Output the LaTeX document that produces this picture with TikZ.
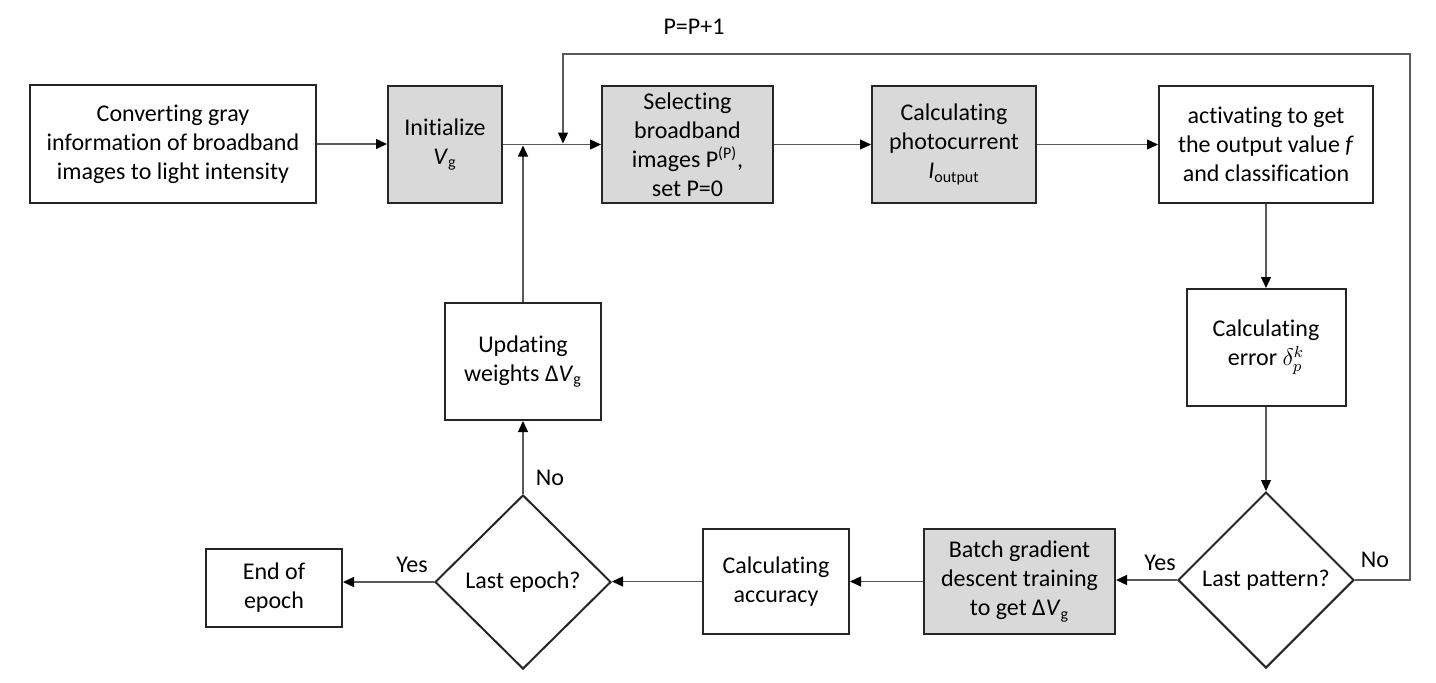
\documentclass[tikz,border=0pt]{standalone}
\usepackage{fontspec}
\setmainfont{Carlito}[Ligatures=NoCommon]
\usetikzlibrary{shapes.geometric,arrows.meta}
\definecolor{boxgray}{HTML}{D9D9D9}
\definecolor{linegray}{HTML}{595959}
\begin{document}
\begin{tikzpicture}[x=0.5pt,y=-0.5pt,
  every node/.style={font=\fontsize{12}{14.5}\selectfont},
  box/.style={draw=black!85, line width=1pt, align=center, inner sep=0pt, fill=white},
  gbox/.style={box, fill=boxgray},
  dec/.style={draw=black!85, line width=1pt, diamond, align=center, inner sep=0pt, fill=white},
  conn/.style={draw=linegray, line width=0.65pt, -{Triangle[length=5.5pt,width=5pt,color=black]}},
  lbl/.style={inner sep=0pt}]
\fill[white] (0,0) rectangle (1436,682);
\useasboundingbox (0,0) rectangle (1436,682);

% top row
\node[box, minimum width=143pt, minimum height=59pt] (conv) at (173,144)
  {Converting gray\\information of broadband\\images to light intensity};
\node[gbox, minimum width=57pt, minimum height=58.5pt] (init) at (445,144.5)
  {Initialize\\\textit{V}\textsubscript{g}};
\node[gbox, minimum width=85.5pt, minimum height=58.5pt] (sel) at (687.5,144.5)
  {Selecting\\broadband\\images P\textsuperscript{(P)},\\set P=0};
\node[gbox, minimum width=82pt, minimum height=58.5pt] (photo) at (954,144.5)
  {Calculating\\photocurrent\\\textit{I}\textsubscript{output}};
\node[box, minimum width=107pt, minimum height=58.5pt] (act) at (1266,144.5)
  {activating to get\\the output value \textit{f}\\and classification};

% right column
\node[box, minimum width=79.5pt, minimum height=58.5pt] (err) at (1266,347.5)
  {Calculating\\error $\delta^{k}_{p}$};
\node[dec, minimum width=88pt, minimum height=88pt] (lastpat) at (1266,580)
  {Last pattern?};

% bottom row
\node[gbox, minimum width=95.5pt, minimum height=52.5pt] (batch) at (1019.5,581.5)
  {Batch gradient\\descent training\\to get Δ\textit{V}\textsubscript{g}};
\node[box, minimum width=73pt, minimum height=52.5pt] (acc) at (776,581.5)
  {Calculating\\accuracy};
\node[dec, minimum width=88pt, minimum height=87pt] (lastep) at (523,582)
  {Last epoch?};
\node[box, minimum width=68pt, minimum height=39pt] (endep) at (274,588)
  {End of\\epoch};
\node[box, minimum width=78pt, minimum height=58.5pt] (upd) at (523,361.5)
  {Updating\\weights Δ\textit{V}\textsubscript{g}};

% labels
\node[lbl] (pplus) at (694,27) {P=P+1};
\node[lbl] (yes1) at (1160,563) {Yes};
\node[lbl] (no1) at (1375,560) {No};
\node[lbl] (yes2) at (412,565) {Yes};
\node[lbl] (no2) at (550,478) {No};

% feedback coordinates
\coordinate (fbR) at (1410,54);
\coordinate (fbL) at (563,54);

% connectors
\draw[conn] (conv.east) -- (conv.east -| init.west);
\draw[conn] (init.east) -- (sel.west);
\draw[conn] (sel.east) -- (photo.west);
\draw[conn] (photo.east) -- (act.west);
\draw[conn] (act.south) -- (err.north);
\draw[conn] (err.south) -- (lastpat.north);
\draw[conn] (lastpat.west) -- (lastpat.west -| batch.east);
\draw[conn] (batch.west) -- (batch.west -| acc.east);
\draw[conn] (acc.west) -- (acc.west -| lastep.east);
\draw[conn] (lastep.west) -- (lastep.west -| endep.east);
\draw[conn] (lastep.north) -- (upd.south);
\draw[conn] (upd.north) -- ([yshift=-0.5pt]upd.north |- init.east);
\draw[conn] (lastpat.east) -- (lastpat.east -| fbR) -- (fbR) -- (fbL) -- ([yshift=0.5pt]fbL |- init.east);
\end{tikzpicture}
\end{document}
